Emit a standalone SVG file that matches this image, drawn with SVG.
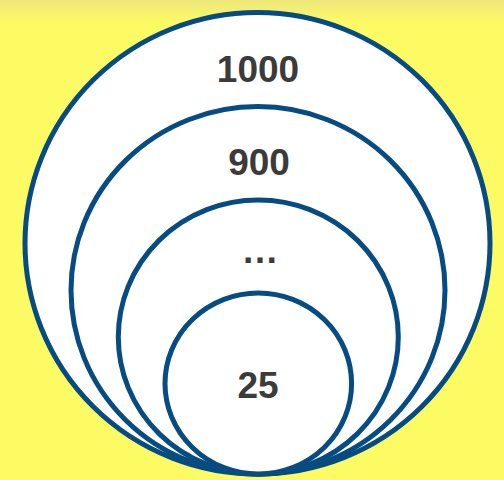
<svg xmlns="http://www.w3.org/2000/svg" width="504" height="480" viewBox="0 0 504 480">
  <style>
    .ring { fill: #ffffff; stroke: #064c82; stroke-width: 5; }
    .lbl { font-family: "Liberation Sans", Arial, sans-serif; font-weight: bold; font-size: 37px; fill: #3b3b3b; text-anchor: middle; }
  </style>
  <defs>
    <linearGradient id="topband" x1="0" y1="0" x2="0" y2="1">
      <stop offset="0" stop-color="#ece67a"/>
      <stop offset="1" stop-color="#fdfb63"/>
    </linearGradient>
  </defs>
  <rect x="0" y="0" width="504" height="480" fill="#fdfb63"/>
  <rect x="0" y="0" width="504" height="22" fill="url(#topband)"/>
  <g id="n1000">
    <ellipse class="ring" cx="257.5" cy="243.3" rx="232.5" ry="230.8"/>
    <text class="lbl" x="258" y="82">1000</text>
  </g>
  <g id="n900">
    <ellipse class="ring" cx="258" cy="290.3" rx="187" ry="183.7"/>
    <text class="lbl" x="259" y="175">900</text>
  </g>
  <g id="n_ellipsis">
    <ellipse class="ring" cx="258.3" cy="337" rx="140" ry="137"/>
    <text class="lbl" x="260" y="263">…</text>
  </g>
  <g id="n25">
    <ellipse class="ring" cx="258.3" cy="383.5" rx="93.3" ry="90.5"/>
    <text class="lbl" x="258" y="398">25</text>
  </g>
  <g id="connectors"/>
</svg>
